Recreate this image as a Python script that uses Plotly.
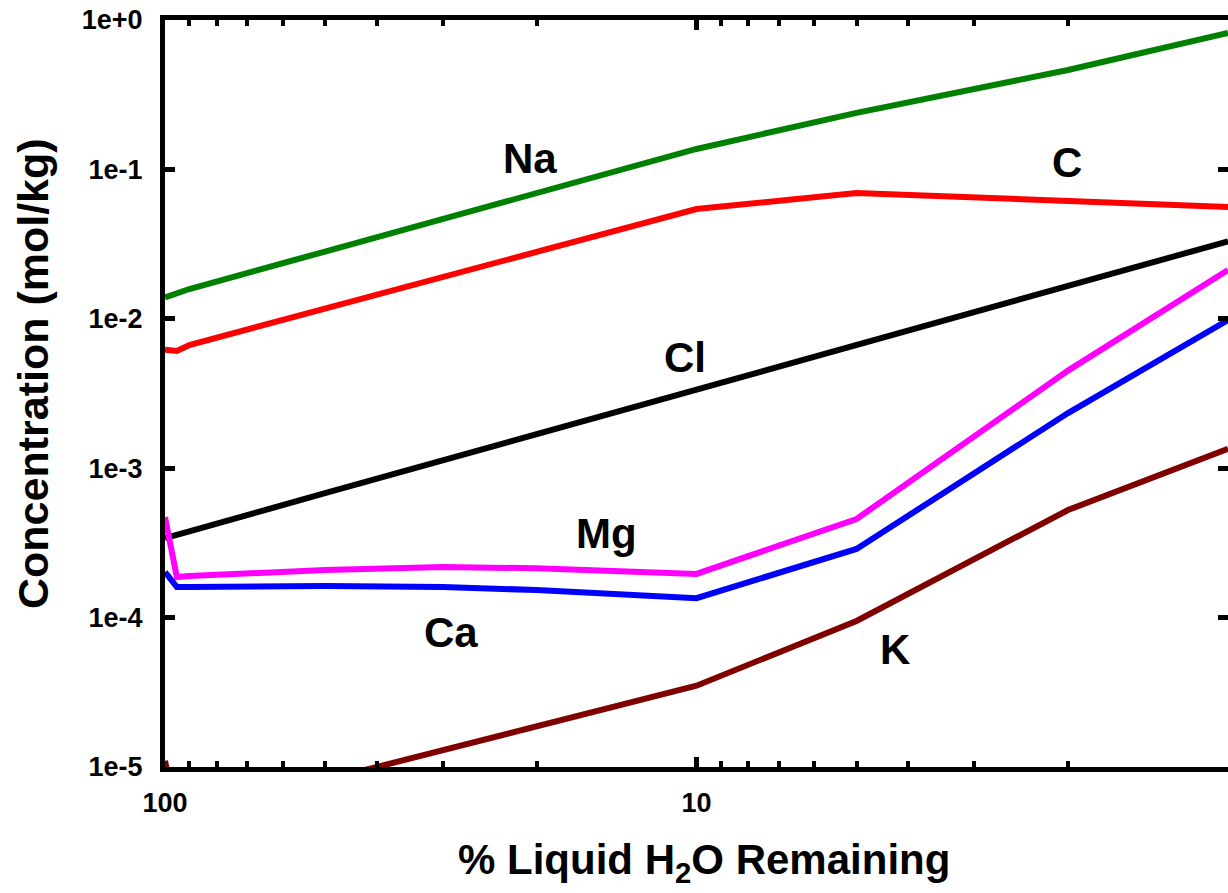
import math
import plotly.graph_objects as go

# % liquid H2O remaining
water = [100, 95, 90, 50, 30, 20, 10, 5, 2, 1]

# concentrations (mol/kg)
na = [0.0139, 0.01466, 0.01583, 0.0282, 0.0466, 0.0695, 0.137, 0.239, 0.4625, 0.818]
c = [0.0062, 0.00609, 0.00668, 0.0117, 0.01905, 0.0281, 0.0543, 0.0695, 0.0614, 0.0561]
cl = [3.4e-4, 3.57e-4, 3.78e-4, 6.8e-4, 1.13e-3, 1.7e-3, 3.4e-3, 6.8e-3, 1.68e-2, 3.3e-2]
mg = [4.7e-4, 1.87e-4, 1.9e-4, 2.08e-4, 2.18e-4, 2.14e-4, 1.96e-4, 4.57e-4, 4.5e-3, 2.12e-2]
ca = [2.02e-4, 1.6e-4, 1.6e-4, 1.63e-4, 1.6e-4, 1.53e-4, 1.35e-4, 2.88e-4, 2.34e-3, 9.8e-3]
k = [1.1e-5, 4.6e-6, 4.8e-6, 8.2e-6, 1.3e-5, 1.9e-5, 3.5e-5, 9.5e-5, 5.25e-4, 1.35e-3]

series = [
    ("Na", na, "#008000"),
    ("C", c, "#ff0000"),
    ("Cl", cl, "#000000"),
    ("Mg", mg, "#ff00ff"),
    ("Ca", ca, "#0000ff"),
    ("K", k, "#800000"),
]

# label positions (data coords: % water, concentration)
labels = [
    ("Na", 20.6, 0.1192),
    ("C", 2.01, 0.1104),
    ("Cl", 10.5, 0.00555),
    ("Mg", 14.8, 3.68e-4),
    ("Ca", 29.0, 8.0e-5),
    ("K", 4.23, 6.07e-5),
]

x_ticks = [100, 10, 1]
x_ticktext = ["100", "10", "1"]
x_minor = [90, 80, 70, 60, 50, 40, 30, 20, 9, 8, 7, 6, 5, 4, 3, 2]
y_ticks = [1, 0.1, 0.01, 0.001, 0.0001, 0.00001]
y_ticktext = ["1e+0", "1e-1", "1e-2", "1e-3", "1e-4", "1e-5"]

FONT = "Liberation Sans, Arial, sans-serif"

fig = go.Figure()
for name, vals, color in series:
    fig.add_trace(go.Scatter(x=water, y=vals, mode="lines", name=name,
                             line=dict(color=color, width=6)))
# invisible trace to anchor the right-side tick axis
fig.add_trace(go.Scatter(x=[water[0]], y=[na[0]], yaxis="y2", mode="markers",
                         marker=dict(opacity=0), hoverinfo="skip", showlegend=False))

for text, lx, ly in labels:
    fig.add_annotation(x=math.log10(lx), y=math.log10(ly),
                       xref="x", yref="y", text=text, showarrow=False,
                       font=dict(family=FONT, size=42, color="black", weight="bold"))

fig.add_annotation(xref="paper", yref="paper", x=(704 - 165) / 1063, y=(767 - 862) / 747,
                   text="% Liquid H<sub>2</sub>O Remaining", showarrow=False,
                   xanchor="center", yanchor="middle",
                   font=dict(family=FONT, size=42, color="black", weight="bold"))
fig.add_annotation(xref="paper", yref="paper", x=(33 - 165) / 1063, y=(767 - 374) / 747,
                   text="Concentration (mol/kg)", showarrow=False, textangle=-90,
                   xanchor="center", yanchor="middle",
                   font=dict(family=FONT, size=43, color="black", weight="bold"))

fig.update_layout(
    width=1228, height=893,
    margin=dict(l=165, r=0, t=20, b=126),
    paper_bgcolor="white", plot_bgcolor="white",
    showlegend=False,
    font=dict(family=FONT, color="black", weight="bold"),
    yaxis2=dict(
        type="log", range=[-5, 0], overlaying="y", side="right",
        tickvals=y_ticks, showticklabels=False, showgrid=False, zeroline=False,
        showline=False, ticks="inside", ticklen=10, tickwidth=5, tickcolor="black",
    ),
)
fig.update_xaxes(
    type="log", range=[2, 0], tickvals=x_ticks, ticktext=x_ticktext,
    showgrid=False, zeroline=False,
    showline=True, linecolor="black", linewidth=5, mirror="ticks",
    ticks="inside", ticklen=10, tickwidth=5, tickcolor="black",
    tickfont=dict(family=FONT, size=27, color="black", weight="bold"),
    ticklabelstandoff=8,
    minor=dict(tickvals=x_minor, ticks="inside", ticklen=6, tickwidth=4,
               tickcolor="black", showgrid=False),
)
fig.update_layout(yaxis=dict(
    type="log", range=[-5, 0], tickvals=y_ticks, ticktext=y_ticktext,
    showgrid=False, zeroline=False,
    showline=True, linecolor="black", linewidth=5, mirror=False,
    ticks="inside", ticklen=10, tickwidth=5, tickcolor="black",
    tickfont=dict(family=FONT, size=27, color="black", weight="bold"),
    ticklabelstandoff=12,
))

fig.write_html("out.html")
